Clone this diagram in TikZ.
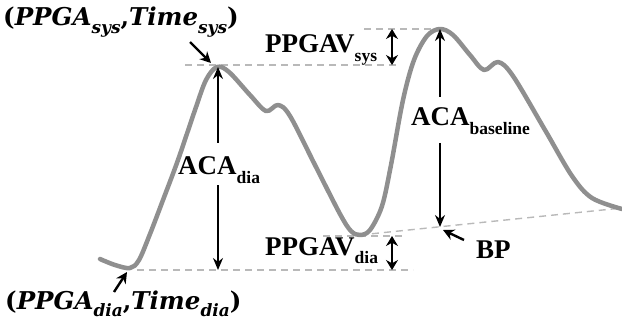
\documentclass[tikz,border=0pt]{standalone}
\usepackage{fontspec}
\setmainfont{Liberation Serif}
\newfontfamily\mathlab{DejaVu Serif}
\usetikzlibrary{arrows.meta}
\newcommand\sbx[1]{\raisebox{-0.32em}{\fontsize{17.5}{19}\selectfont #1}}
\newcommand\msbx[1]{\raisebox{-0.3em}{\fontsize{17}{19}\selectfont #1}}
\tikzset{
 wave/.style={draw=gray!88, line width=4.5pt, line cap=round, line join=round},
 guide/.style={draw=gray!55, line width=1.4pt, dash pattern=on 7pt off 5pt},
 meas/.style={draw=black, line width=1.4pt, -{Stealth[length=12pt,width=10pt]}},
 dmeas/.style={draw=black, line width=1.4pt, {Stealth[length=10pt,width=12pt]}-{Stealth[length=10pt,width=12pt]}},
 pointer/.style={draw=black, line width=2.4pt, -{Stealth[length=11pt,width=11pt]}},
 lab/.style={font=\fontsize{27}{30}\selectfont\bfseries, inner sep=0pt, anchor=base west},
 mlab/.style={font=\fontsize{24.5}{28}\selectfont\mathlab\bfseries, inner sep=0pt, anchor=base west},
}
\begin{document}
\begin{tikzpicture}[x=1pt,y=-1pt]
\useasboundingbox (0,0) rectangle (622,329);
% key coordinates
\coordinate (pk1) at (218,67);
\coordinate (pk2) at (440,29);
\coordinate (tr) at (360,235);
\coordinate (bp) at (440,227);
\coordinate (endb) at (622,208);
% guide lines
\draw[guide] (185,65) -- (400,65);
\draw[guide] (364,29) -- (pk2);
\draw[guide] (137,270) -- (413,270);
\draw[guide] (323,236) -- (405,236);
\draw[guide] (tr) -- (endb);
% waveform
\draw[wave] plot[smooth, tension=0.55] coordinates {
 (100,259) (115,265) (130,268) (139,260) (150,234) (163,200) (178,160)
 (195,110) (206,80) (217,67) (229,72) (250,95) (266,111) (278,105)
 (290,116) (315,165) (340,214) (351,231) (360,235) (370,230) (382,206)
 (391,165) (403,100) (414,60) (427,36) (440,29) (453,35) (470,55)
 (484,70) (498,62) (513,76) (545,130) (572,176) (592,198) (622,209)};
% labels
\node[mlab] (sysl) at (3,26) {(\textit{PPGA}\msbx{\textit{sys}},\textit{Time}\msbx{\textit{sys}})};
\node[mlab] (dial) at (5,309) {(\textit{PPGA}\msbx{\textit{dia}},\textit{Time}\msbx{\textit{dia}})};
\node[lab] (ppsys) at (265,53) {PPGAV\sbx{sys}};
\node[lab] (ppdia) at (265,255) {PPGAV\sbx{dia}};
\node[lab] (acadia) at (178,175) {ACA\sbx{dia}};
\node[lab] (acabase) at (411,126) {ACA\sbx{baseline}};
\node[lab] (bpl) at (476,258) {BP};
% measurement arrows
\coordinate (ad1) at (218,143);
\coordinate (ad2) at (218,185);
\coordinate (adb) at (218,270);
\draw[meas] (ad1) -- (pk1);
\draw[meas] (ad2) -- (adb);
\coordinate (ab1) at (440,97);
\coordinate (ab2) at (440,143);
\draw[meas] (ab1) -- (pk2);
\draw[meas] (ab2) -- (bp);
\coordinate (ds1) at (392,29);
\coordinate (ds2) at (392,65);
\draw[dmeas] (ds1) -- (ds2);
\coordinate (dd1) at (392,236);
\coordinate (dd2) at (392,270);
\draw[dmeas] (dd1) -- (dd2);
% pointers
\coordinate (p1s) at (190,42);
\coordinate (p1e) at (211,63);
\draw[pointer] (p1s) -- (p1e);
\coordinate (p2s) at (114,292);
\coordinate (p2e) at (127,272);
\draw[pointer] (p2s) -- (p2e);
\coordinate (p3s) at (464,240);
\coordinate (p3e) at (443,230);
\draw[pointer] (p3s) -- (p3e);
\end{tikzpicture}
\end{document}
